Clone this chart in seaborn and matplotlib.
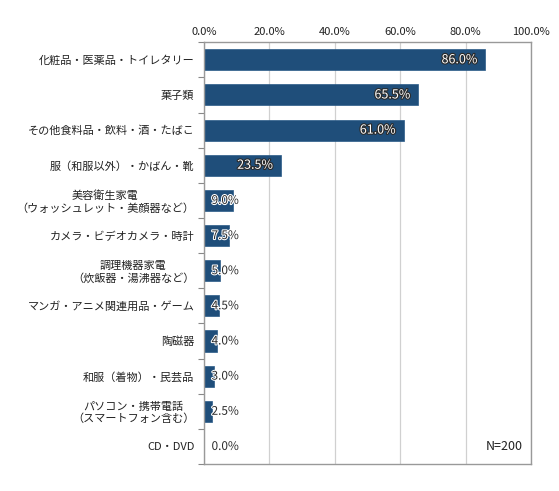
import matplotlib
matplotlib.use("Agg")
import matplotlib.pyplot as plt
import matplotlib.patheffects as pe
from matplotlib.ticker import FixedLocator
import seaborn as sns
import pandas as pd

categories = [
    "化粧品・医薬品・トイレタリー",
    "菓子類",
    "その他食料品・飲料・酒・たばこ",
    "服（和服以外）・かばん・靴",
    "美容衛生家電\n（ウォッシュレット・美顔器など）",
    "カメラ・ビデオカメラ・時計",
    "調理機器家電\n（炊飯器・湯沸器など）",
    "マンガ・アニメ関連用品・ゲーム",
    "陶磁器",
    "和服（着物）・民芸品",
    "パソコン・携帯電話\n（スマートフォン含む）",
    "CD・DVD",
]
values = [86.0, 65.5, 61.0, 23.5, 9.0, 7.5, 5.0, 4.5, 4.0, 3.0, 2.5, 0.0]
xticks = [0, 20, 40, 60, 80, 100]
note = "N=200"

sns.set_theme(style="white")
plt.rcParams['font.family'] = ['Noto Sans CJK JP', 'DejaVu Sans']

df = pd.DataFrame({"cat": categories, "val": values})

fig = plt.figure(figsize=(5.59, 4.91), dpi=100)
ax = fig.add_axes([0.365, 0.055, 0.585, 0.859])

sns.barplot(data=df, x="val", y="cat", orient="h", color="#1f4e7a",
            saturation=1, width=0.6, ax=ax, edgecolor="#2a5a88", linewidth=0.5)

ax.set_xlim(0, 100)
ax.set_ylim(len(categories) - 0.5, -0.5)
ax.set_xlabel("")
ax.set_ylabel("")

ax.xaxis.tick_top()
ax.set_xticks(xticks)
ax.set_xticklabels([f"{t:.1f}%" for t in xticks], fontsize=8, color="#222222")
ax.tick_params(axis="x", length=0, pad=4)

ax.tick_params(axis="y", which="major", length=0, pad=7)
for lab in ax.get_yticklabels():
    lab.set_fontsize(8)
    lab.set_color("#222222")
    lab.set_multialignment("center")
ax.yaxis.set_minor_locator(FixedLocator([i + 0.5 for i in range(-1, len(categories))]))
ax.tick_params(axis="y", which="minor", left=True, length=4, width=0.8, color="#888888")

ax.grid(axis="x", color="#d0d0d0", linewidth=0.9)
ax.set_axisbelow(True)
for s in ax.spines.values():
    s.set_visible(True)
    s.set_color("#999999")
    s.set_linewidth(1.0)

for i, v in enumerate(values):
    if v >= 10:
        ax.text(v - 2.4, i, f"{v:.1f}%", ha="right", va="center", fontsize=9,
                color="white",
                path_effects=[pe.withStroke(linewidth=1.6, foreground="#2b2b2b")])
    else:
        ax.text(2.3, i, f"{v:.1f}%", ha="left", va="center", fontsize=8.5,
                color="#2b2b2b",
                path_effects=[pe.withStroke(linewidth=1.5, foreground="white")])

ax.text(97.5, 11.0, note, ha="right", va="center", fontsize=9, color="#222222")

fig.savefig("out.png", dpi=100)
